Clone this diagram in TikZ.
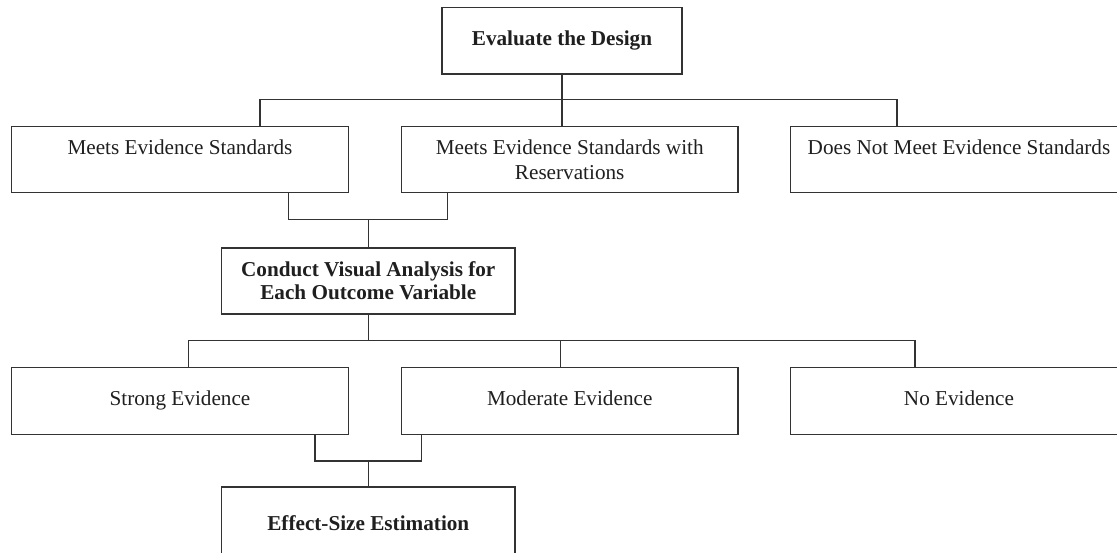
\documentclass[tikz,border=0pt]{standalone}
\usepackage{fontspec}
\setmainfont{Liberation Serif}
\begin{document}
\begin{tikzpicture}[
    x=1pt, y=-1pt,
    every node/.style={font=\fontsize{21.2}{24.3}\selectfont, text=black!88},
    box/.style={draw=black!80, line width=1.2pt, rectangle, inner sep=0pt,
                minimum height=66pt, align=center},
    wide/.style={box, minimum width=336.6pt},
    single/.style={text height=14.5pt, text depth=4.5pt},
    mid/.style={box, minimum width=293.5pt, font=\fontsize{21.2}{23.4}\selectfont\bfseries},
    link/.style={draw=black!80, line width=1.2pt}
  ]
  \useasboundingbox (0,0) rectangle (1117,552);
  \clip (0,0) rectangle (1117,552);

  % top of the tree
  \node[box, single, minimum width=240pt, minimum height=66.7pt, font=\fontsize{21.2}{24.3}\selectfont\bfseries]
    (design) at (562,40.7) {Evaluate the Design};

  % design outcomes (text sits in the upper half of each box)
  \node[wide] (meets)    at (180,159.7)   {Meets Evidence Standards\\\mbox{}};
  \node[wide] (reserv)   at (569.7,159.7) {Meets Evidence Standards with\\Reservations};
  \node[wide] (notmeet)  at (959,159.7)   {Does Not Meet Evidence Standards\\\mbox{}};

  % visual analysis
  \node[mid] (visual) at (368.3,280.9) {Conduct Visual Analysis for\\Each Outcome Variable};

  % evidence levels
  \node[wide, single, minimum height=67pt] (strong)   at (180,400.9)   {Strong Evidence};
  \node[wide, single, minimum height=67pt] (moderate) at (569.7,400.9) {Moderate Evidence};
  \node[wide, single, minimum height=67pt] (noev)     at (959,400.9)   {No Evidence};

  % effect size (its lower edge runs past the page)
  \node[mid, single, minimum height=76pt] (effect) at (368.3,525) {Effect-Size Estimation};

  % bus below the design box
  \coordinate (b1l) at (260,99.5);
  \coordinate (b1r) at (897,99.5);
  \draw[link] (b1l |- meets.north) -- (b1l) -- (b1r) -- (b1r |- notmeet.north);
  \draw[link] (design.south) -- (design.south |- reserv.north);

  % join of the two accepted outcomes
  \coordinate (j1l) at (288.3,219.5);
  \coordinate (j1r) at (447.7,219.5);
  \draw[link] (j1l |- meets.south) -- (j1l) -- (j1r) -- (j1r |- reserv.south);
  \draw[link] (visual.north) -- (visual.north |- j1l);

  % bus below the visual analysis box
  \coordinate (b2l) at (188.6,340.7);
  \coordinate (b2m) at (560.6,340.7);
  \coordinate (b2r) at (915,340.7);
  \draw[link] (b2l |- strong.north) -- (b2l) -- (b2r) -- (b2r |- noev.north);
  \draw[link] (b2m) -- (b2m |- moderate.north);
  \draw[link] (visual.south) -- (visual.south |- b2l);

  % join of strong and moderate evidence
  \coordinate (j2l) at (315,461);
  \coordinate (j2r) at (421.4,461);
  \draw[link] (j2l |- strong.south) -- (j2l) -- (j2r) -- (j2r |- moderate.south);
  \draw[link] (effect.north) -- (effect.north |- j2l);
\end{tikzpicture}
\end{document}
